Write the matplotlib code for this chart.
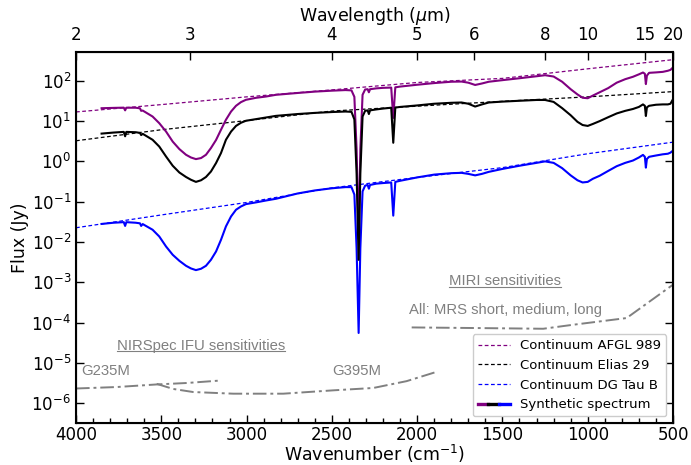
import matplotlib
matplotlib.use("Agg")
import matplotlib.pyplot as plt
from matplotlib.legend_handler import HandlerBase
from matplotlib.lines import Line2D
from matplotlib.ticker import FixedLocator, LogFormatterMathtext, MultipleLocator, NullLocator

plt.rcParams["font.family"] = ["DejaVu Sans"]
plt.rcParams["mathtext.fontset"] = "dejavusans"

# synthetic spectra (wavenumber in cm-1, flux in Jy)
WAVENUMBER = [
    3850, 3780, 3720, 3712, 3705, 3650, 3625, 3618, 3609,
    3551, 3512, 3472, 3433, 3394, 3355, 3326, 3297, 3267, 3238,
    3209, 3179, 3150, 3121, 3091, 3062, 3033, 3004, 2945, 2886, 2828,
    2700, 2600, 2500, 2420, 2385, 2368, 2355, 2343, 2333, 2320,
    2305, 2290, 2283, 2276, 2240, 2200, 2152, 2140, 2128, 2100,
    2000, 1900, 1800, 1740, 1700, 1660, 1620, 1580, 1500, 1400,
    1300, 1250, 1200, 1150, 1100, 1060, 1030, 1000, 970, 930,
    880, 830, 780, 735, 700, 676, 665, 659, 653, 640,
    600, 560, 530, 515, 500,
]
FLUX_AFGL989 = [
    20.9, 21.3, 21.6, 18.5, 21.5, 21.5, 20.8, 18.0, 18.3,
    13.0, 8.9, 5.5, 3.1, 2.02, 1.46, 1.25, 1.14, 1.21, 1.46,
    2.14, 3.4, 6.1, 10.8, 17.3, 24, 29.6, 33.8, 37.9, 40.8, 45,
    50, 54, 57, 59, 58, 40, 2.0, 0.012, 2.0, 45,
    61, 62, 52, 62, 65, 67, 68, 12, 69, 72,
    80, 88, 95, 96, 90, 79, 86, 95, 104, 116,
    130, 138, 128, 95, 62, 46, 38, 37, 43, 52,
    66, 90, 110, 126, 145, 161, 150, 83, 135, 158,
    162, 167, 178, 187, 215,
]
FLUX_ELIAS29 = [
    4.9, 5.2, 5.4, 4.2, 5.4, 5.3, 5.1, 4.5, 4.84,
    3.44, 2.34, 1.32, 0.78, 0.53, 0.41, 0.35, 0.31, 0.34, 0.41,
    0.56, 0.91, 1.61, 3.44, 5.5, 7.6, 9.1, 10.2, 11.2, 12.3, 13.5,
    15.0, 16.0, 16.8, 17.3, 17, 11, 0.5, 0.0036, 0.5, 13,
    18, 18.5, 15, 18.5, 19.5, 20.5, 21.5, 2.9, 21.7, 22.5,
    24.5, 27, 28.5, 29, 27, 23, 26, 29, 30.5, 32,
    33.5, 33.5, 30, 21, 14, 9.6, 8, 7.6, 8.5, 10,
    12.5, 15.5, 18, 20, 22.5, 26, 24, 13.4, 22, 24,
    25.5, 26, 26, 27, 35,
]
FLUX_DGTAUB = [
    0.028, 0.030, 0.031, 0.025, 0.031, 0.030, 0.029, 0.025, 0.0278,
    0.0201, 0.0137, 0.0077, 0.0048, 0.0034, 0.00256, 0.0022, 0.0020, 0.00216, 0.00256,
    0.0036, 0.0058, 0.0113, 0.0243, 0.043, 0.063, 0.076, 0.087, 0.096, 0.107, 0.118,
    0.16, 0.19, 0.215, 0.23, 0.23, 0.15, 0.007, 0.000055, 0.007, 0.18,
    0.25, 0.26, 0.21, 0.26, 0.28, 0.29, 0.30, 0.045, 0.31, 0.33,
    0.40, 0.47, 0.51, 0.52, 0.49, 0.45, 0.49, 0.55, 0.65, 0.78,
    0.92, 1.0, 0.92, 0.68, 0.45, 0.34, 0.30, 0.31, 0.37, 0.44,
    0.58, 0.76, 0.92, 1.05, 1.25, 1.45, 1.3, 0.70, 1.15, 1.3,
    1.4, 1.5, 1.55, 1.65, 1.85,
]

# continua
CONT_WAVENUMBER = [4000, 3500, 3000, 2500, 2000, 1500, 1000, 500]
CONT_AFGL989 = [16.9, 25.7, 40, 59.6, 91, 115, 199, 335]
CONT_ELIAS29 = [3.25, 6.1, 10.3, 17.8, 23.5, 31, 40, 54]
CONT_DGTAUB = [0.0225, 0.0468, 0.0955, 0.22, 0.40, 0.70, 1.55, 3.0]

# JWST sensitivities
G235M_WN = [4000, 3762, 3527, 3351, 3164]
G235M_FLUX = [2.3e-6, 2.5e-6, 2.9e-6, 3.15e-6, 3.6e-6]
G395M_WN = [3527, 3430, 3313, 3078, 2785, 2492, 2257, 2062, 1895]
G395M_FLUX = [3.0e-6, 2.24e-6, 1.88e-6, 1.71e-6, 1.71e-6, 2.07e-6, 2.37e-6, 3.5e-6, 5.8e-6]
MIRI_WN = [2032, 1671, 1261, 1085, 772, 500]
MIRI_FLUX = [7.55e-5, 7.3e-5, 7.0e-5, 8.8e-5, 1.29e-4, 8.7e-4]

FLUX_TICKS = [1e-6, 1e-5, 1e-4, 1e-3, 1e-2, 1e-1, 1e0, 1e1, 1e2]
TOP_WAVELENGTHS = [2.5, 3, 4, 5, 6, 8, 10, 15, 20]

SPEC_COLORS = ["purple", "black", "blue"]
SENS = "0.5"
NOTE_FONT = ["Liberation Sans", "DejaVu Sans"]


class TriColorHandler(HandlerBase):
    def create_artists(self, legend, orig_handle, xdescent, ydescent,
                       width, height, fontsize, trans):
        y = height / 2 - ydescent
        out = []
        for i, c in enumerate(SPEC_COLORS):
            x0 = -xdescent + width * i / 3
            x1 = -xdescent + width * (i + 1) / 3
            out.append(Line2D([x0, x1], [y, y], color=c, lw=2.4, transform=trans))
        return out


def underline(fig, txt):
    fig.canvas.draw()
    bb = txt.get_window_extent()
    inv = fig.transFigure.inverted()
    (x0, y0), (x1, _) = inv.transform([(bb.x0, bb.y0 + 1.5), (bb.x1, bb.y0 + 1.5)])
    fig.add_artist(Line2D([x0, x1], [y0, y0], color=SENS, lw=0.8,
                          transform=fig.transFigure))


fig = plt.figure(figsize=(6.91, 4.65), dpi=100)
ax = fig.add_axes([76 / 691, 1 - 423 / 465, (673 - 76) / 691, (423 - 52) / 465])

ax.plot(CONT_WAVENUMBER, CONT_AFGL989, color="purple", lw=0.9, dashes=(3, 2))
ax.plot(CONT_WAVENUMBER, CONT_ELIAS29, color="black", lw=0.9, dashes=(3, 2))
ax.plot(CONT_WAVENUMBER, CONT_DGTAUB, color="blue", lw=0.9, dashes=(3, 2))

ax.plot(WAVENUMBER, FLUX_AFGL989, color="purple", lw=1.5)
ax.plot(WAVENUMBER, FLUX_DGTAUB, color="blue", lw=1.5)
ax.plot(WAVENUMBER, FLUX_ELIAS29, color="black", lw=1.5)

for wn, fl in [(G235M_WN, G235M_FLUX), (G395M_WN, G395M_FLUX), (MIRI_WN, MIRI_FLUX)]:
    ax.plot(wn, fl, color=SENS, lw=1.4, dashes=(7, 2, 1.5, 2))

ax.set_yscale("log")
ax.set_xlim(4000, 500)
ax.set_ylim(3.2e-7, 5.2e2)
ax.xaxis.set_major_locator(MultipleLocator(500))
ax.xaxis.set_minor_locator(MultipleLocator(100))
ax.yaxis.set_major_locator(FixedLocator(FLUX_TICKS))
ax.yaxis.set_major_formatter(LogFormatterMathtext())
ax.yaxis.set_minor_locator(NullLocator())
ax.tick_params(which="both", direction="in", right=True, top=False, labelsize=12)
ax.tick_params(which="major", length=5.5, width=1)
ax.tick_params(which="minor", length=3.5, width=1)
ax.tick_params(axis="x", pad=2.5)
for s in ax.spines.values():
    s.set_linewidth(1.5)
ax.set_xlabel("Wavenumber (cm$^{-1}$)", fontsize=12.5, labelpad=-1)
ax.set_ylabel("Flux (Jy)", fontsize=12.5, labelpad=2)

ax2 = ax.twiny()
ax2.set_xlim(ax.get_xlim())
ax2.set_xticks([1e4 / w for w in TOP_WAVELENGTHS])
ax2.set_xticklabels([f"{int(w)}" for w in TOP_WAVELENGTHS])
ax2.xaxis.set_minor_locator(NullLocator())
ax2.tick_params(direction="in", length=5.5, width=1, labelsize=12, pad=5.5)
ax2.set_xlabel("Wavelength ($\\mu$m)", fontsize=12.5, labelpad=4)

note = dict(color=SENS, family=NOTE_FONT, fontsize=10.7, va="center")
t1 = ax.text(3267, 2.65e-5, "NIRSpec IFU sensitivities", ha="center", **note)
ax.text(3967, 6.1e-6, "G235M", ha="left", **note)
ax.text(2495, 6.1e-6, "G395M", ha="left", **note)
t2 = ax.text(1482, 1.05e-3, "MIRI sensitivities", ha="center", **note)
ax.text(1482, 2.08e-4, "All: MRS short, medium, long", ha="center", **note)

synth = Line2D([], [], color="purple")
handles = [
    Line2D([], [], color="purple", lw=0.9, dashes=(3, 2)),
    Line2D([], [], color="black", lw=0.9, dashes=(3, 2)),
    Line2D([], [], color="blue", lw=0.9, dashes=(3, 2)),
    synth,
]
labels = ["Continuum AFGL 989", "Continuum Elias 29", "Continuum DG Tau B", "Synthetic spectrum"]
leg = ax.legend(handles, labels, loc="lower right", fontsize=9.5, handlelength=2.4,
                handler_map={synth: TriColorHandler()}, fancybox=True, framealpha=1)
leg.get_frame().set_edgecolor("0.8")

underline(fig, t1)
underline(fig, t2)

fig.savefig("out.png", dpi=100)
